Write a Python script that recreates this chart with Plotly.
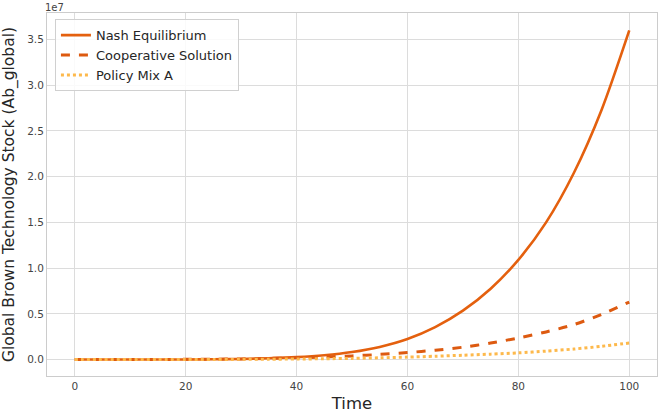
import plotly.graph_objects as go

time = [0, 5, 10, 15, 20, 25, 30, 35, 40, 45, 50, 55, 60, 65, 70, 75, 80, 85, 90, 95, 100]
nash = [0.0, 0.0, 0.001, 0.004, 0.012, 0.03, 0.065, 0.14, 0.26, 0.47, 0.82, 1.38, 2.25, 3.55, 5.35, 7.75, 10.9, 15.0, 20.4, 27.3, 36.0]
coop = [0.0, 0.002, 0.005, 0.01, 0.02, 0.04, 0.07, 0.12, 0.19, 0.28, 0.4, 0.56, 0.76, 1.02, 1.35, 1.8, 2.36, 3.02, 3.82, 4.93, 6.29]
policy = [0.0, 0.001, 0.002, 0.004, 0.007, 0.012, 0.02, 0.035, 0.055, 0.085, 0.125, 0.19, 0.27, 0.36, 0.47, 0.59, 0.73, 0.92, 1.15, 1.45, 1.81]
scale = 1e6
ytick_vals = [0, 0.5, 1.0, 1.5, 2.0, 2.5, 3.0, 3.5]
xtick_vals = [0, 20, 40, 60, 80, 100]

fig = go.Figure()
fig.add_trace(go.Scatter(x=time, y=[v * scale for v in nash], mode="lines", name="Nash Equilibrium",
                         line=dict(color="#e4600e", width=2.6, dash="solid", shape="spline", smoothing=0.8)))
fig.add_trace(go.Scatter(x=time, y=[v * scale for v in coop], mode="lines", name="Cooperative Solution",
                         line=dict(color="#dd5a10", width=3, dash="dash", shape="spline", smoothing=0.8)))
fig.add_trace(go.Scatter(x=time, y=[v * scale for v in policy], mode="lines", name="Policy Mix A",
                         line=dict(color="#fdb94c", width=3, dash="dot", shape="spline", smoothing=0.8)))

fig.update_layout(
    width=660, height=414,
    margin=dict(l=47, r=3, t=13, b=38),
    paper_bgcolor="white", plot_bgcolor="white",
    font=dict(family="DejaVu Sans", color="#262626"),
    legend=dict(x=0.013, y=0.983, xanchor="left", yanchor="top",
                bgcolor="rgba(255,255,255,0.85)", bordercolor="#d0d0d0", borderwidth=1,
                font=dict(size=13, color="#262626"), tracegroupgap=0, itemwidth=30),
    xaxis=dict(range=[-5, 105], tickvals=xtick_vals, showgrid=True, gridcolor="#dcdcdc", gridwidth=1,
               zeroline=False, showline=True, linecolor="#cccccc", linewidth=1, mirror=True,
               ticks="", tickfont=dict(size=10.5, color="#444444"),
               title=dict(text="Time", font=dict(size=16.5, color="#262626"), standoff=6)),
    yaxis=dict(range=[-1.8e6, 37.9e6], tickvals=[v * 1e7 for v in ytick_vals],
               ticktext=[f"{v:.1f}" for v in ytick_vals],
               showgrid=True, gridcolor="#dcdcdc", gridwidth=1,
               zeroline=False, showline=True, linecolor="#cccccc", linewidth=1, mirror=True,
               ticks="", tickfont=dict(size=10.5, color="#444444"),
               title=dict(text="Global Brown Technology Stock (Ab_global)",
                          font=dict(size=15.5, color="#262626"), standoff=8)),
    annotations=[dict(text="1e7", x=0, y=1, xref="paper", yref="paper", xanchor="left", yanchor="bottom",
                      showarrow=False, font=dict(size=10, color="#444444"), yshift=-2, xshift=-4)],
)

fig.write_html("out.html")
